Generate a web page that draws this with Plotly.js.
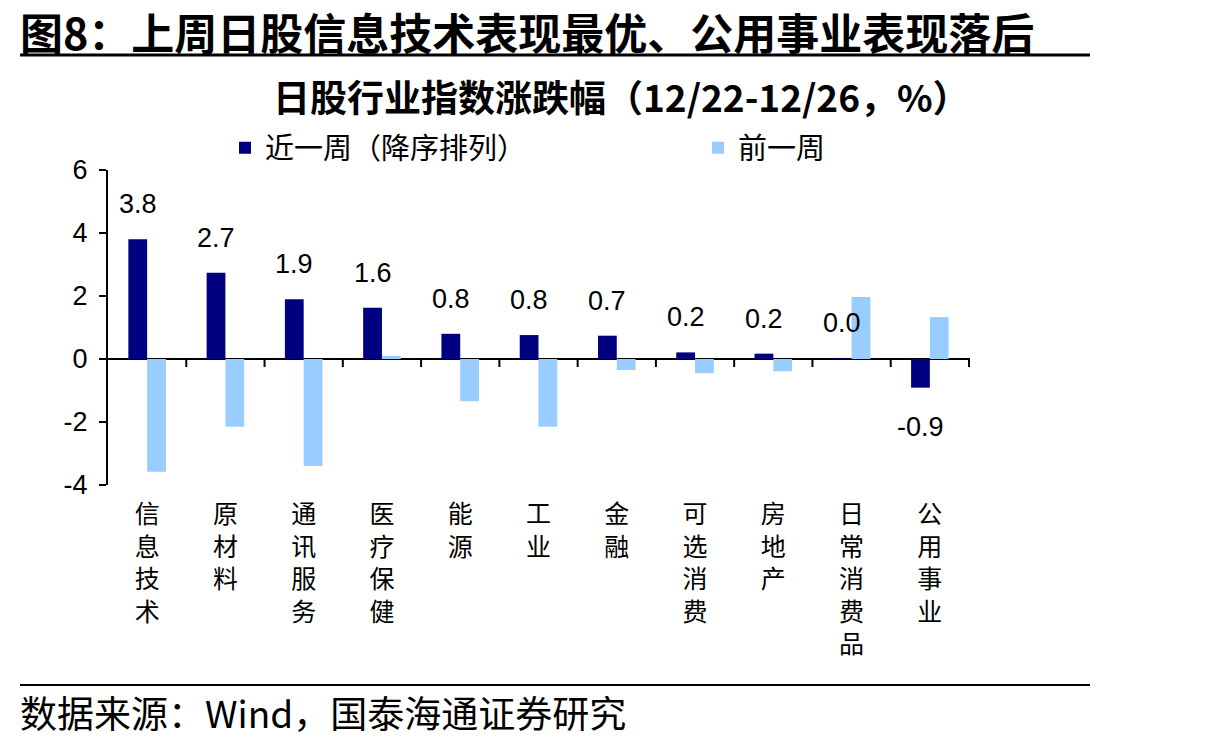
<!DOCTYPE html>
<html>
<head>
<meta charset="utf-8">
<script src="https://cdn.plot.ly/plotly-3.0.1.min.js"></script>
<style>html,body{margin:0;padding:0;background:#fff;}#chart{width:1216px;height:742px;}</style>
</head>
<body>
<div id="chart"></div>
<script>
const categories = ['信息技术','原材料','通讯服务','医疗保健','能源','工业','金融','可选消费','房地产','日常消费品','公用事业'];
const thisWeek = [3.8, 2.74, 1.9, 1.63, 0.8, 0.76, 0.74, 0.21, 0.17, 0.02, -0.91];
const lastWeek = [-3.58, -2.15, -3.4, 0.1, -1.34, -2.15, -0.35, -0.45, -0.39, 1.97, 1.33];
const seriesNames = ['近一周（降序排列）', '前一周'];
const yTickVals = [-4, -2, 0, 2, 4, 6];
const yTickText = ['-4', '-2', '0', '2', '4', '6'];
const titleText = '图8：上周日股信息技术表现最优、公用事业表现落后';
const subtitleText = '日股行业指数涨跌幅（12/22-12/26，%）';
const sourceText = '数据来源：Wind，国泰海通证券研究';

const W = 1216, H = 742;
const M = {l: 108, r: 246, t: 170, b: 257};
const PW = W - M.l - M.r, PH = H - M.t - M.b;
const px = x => (x - M.l) / PW;
const py = y => (H - M.b - y) / PH;

const CJK = '"Noto Sans CJK SC", sans-serif';
const NUM = 'Arial, "Liberation Sans", sans-serif';
const BARGAP = 0.52;
const barW = (1 - BARGAP) / 2;
const catPx = PW / categories.length;
const darkShift = -barW / 2 * catPx;

const labels = categories.map(c => c.split('').join('<br>'));

const traces = [
  {type: 'bar', name: seriesNames[0], x: labels, y: thisWeek, marker: {color: '#000080'}, hoverinfo: 'skip', legend: 'legend'},
  {type: 'bar', name: seriesNames[1], x: labels, y: lastWeek, marker: {color: '#99CCFF'}, hoverinfo: 'skip', legend: 'legend2'}
];

const annotations = thisWeek.map((v, i) => ({
  x: labels[i], y: v, xref: 'x', yref: 'y',
  text: v.toFixed(1).replace('-0.0', '0.0'),
  showarrow: false,
  xshift: darkShift,
  yanchor: v >= 0 ? 'bottom' : 'top',
  yshift: v >= 0 ? 18 : -22,
  font: {family: NUM, size: 27, color: '#000'}
}));

annotations.push({
  xref: 'paper', yref: 'paper', x: px(18), y: py(31), xanchor: 'left', yanchor: 'middle',
  text: '<b>' + titleText + '</b>', showarrow: false,
  font: {family: CJK, size: 43, color: '#000'}
});
annotations.push({
  xref: 'paper', yref: 'paper', x: px(621), y: py(96), xanchor: 'center', yanchor: 'middle',
  text: '<b>' + subtitleText + '</b>', showarrow: false,
  font: {family: CJK, size: 37, color: '#000'}
});
annotations.push({
  xref: 'paper', yref: 'paper', x: px(18), y: py(712), xanchor: 'left', yanchor: 'middle',
  text: sourceText, showarrow: false,
  font: {family: CJK, size: 37, color: '#000'}
});

const shapes = [
  {type: 'line', xref: 'paper', yref: 'paper', x0: px(20), x1: px(1090), y0: py(55), y1: py(55), line: {color: '#000', width: 3}},
  {type: 'line', xref: 'paper', yref: 'paper', x0: px(20), x1: px(1090), y0: py(685), y1: py(685), line: {color: '#000', width: 2}}
];
for (let i = 0; i < categories.length; i++) {
  shapes.push({type: 'line', xref: 'x', yref: 'y', ysizemode: 'pixel', yanchor: 0,
    x0: i + 0.5, x1: i + 0.5, y0: 0, y1: -8, line: {color: '#000', width: 2}});
}

const legendBase = {
  orientation: 'h', y: py(148), xanchor: 'left', yanchor: 'middle',
  font: {family: CJK, size: 29, color: '#000'},
  bgcolor: 'rgba(0,0,0,0)', itemclick: false
};

const layout = {
  width: W, height: H,
  margin: M,
  paper_bgcolor: '#fff', plot_bgcolor: '#fff',
  barmode: 'group', bargap: BARGAP, bargroupgap: 0,
  showlegend: true,
  legend: Object.assign({}, legendBase, {x: px(225)}),
  legend2: Object.assign({}, legendBase, {x: px(698)}),
  xaxis: {
    type: 'category', showline: false, showgrid: false, zeroline: false,
    ticks: '', ticklabelstandoff: 12,
    tickfont: {family: CJK, size: 25, color: '#000'},
    tickangle: 0, fixedrange: true
  },
  yaxis: {
    range: [-4, 6], tickvals: yTickVals, ticktext: yTickText,
    showline: true, linecolor: '#000', linewidth: 2,
    ticks: 'outside', ticklen: 7, tickwidth: 2, tickcolor: '#000',
    showgrid: false, zeroline: true, zerolinecolor: '#000', zerolinewidth: 2,
    tickfont: {family: NUM, size: 27, color: '#000'},
    ticklabelstandoff: 6, fixedrange: true
  },
  annotations: annotations,
  shapes: shapes,
  font: {family: CJK, color: '#000'}
};

Plotly.newPlot('chart', traces, layout, {displayModeBar: false, staticPlot: true});
</script>
</body>
</html>
